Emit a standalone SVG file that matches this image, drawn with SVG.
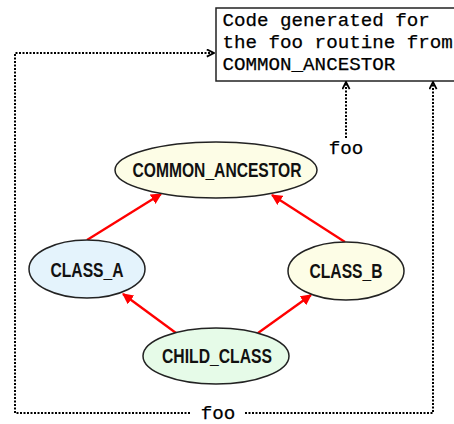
<svg xmlns="http://www.w3.org/2000/svg" width="454" height="424" viewBox="0 0 454 424">
  <defs>
    <marker id="solid" viewBox="0 0 10 10" refX="9" refY="5" markerWidth="11" markerHeight="11" markerUnits="userSpaceOnUse" orient="auto">
      <path d="M0,0 L10,5 L0,10 Z" fill="#ff0000"/>
    </marker>
    <marker id="open" viewBox="0 0 10 10" refX="9" refY="5" markerWidth="9" markerHeight="9" markerUnits="userSpaceOnUse" orient="auto">
      <path d="M1,1 L9,5 L1,9" fill="none" stroke="#000" stroke-width="2"/>
    </marker>
  </defs>
  <style>
    .node ellipse { stroke: #222; stroke-width: 1.5; }
    .label { font-family: "Liberation Sans", Arial, sans-serif; font-weight: bold; font-size: 19.5px; fill: #111; text-anchor: middle; }
    .mono { font-family: "Liberation Mono", "Courier New", monospace; font-size: 19.2px; fill: #000; stroke: #000; stroke-width: 0.25; }
    .inherit { stroke: #ff0000; stroke-width: 2.3; fill: none; marker-end: url(#solid); }
    .call { stroke: #000; stroke-width: 2; stroke-dasharray: 2 1.5; fill: none; }
  </style>

  <!-- generated code box -->
  <g id="code_box">
    <rect x="216" y="8" width="250" height="73" fill="#fff" stroke="#222" stroke-width="1.5"/>
    <text class="mono" x="222.5" y="26">Code generated for</text>
    <text class="mono" x="222.5" y="48">the foo routine from</text>
    <text class="mono" x="222.5" y="70">COMMON_ANCESTOR</text>
  </g>

  <g id="connectors">
    <!-- inheritance links -->
    <line class="inherit" x1="87" y1="240" x2="161" y2="194"/>
    <line class="inherit" x1="345" y1="242" x2="272" y2="195"/>
    <line class="inherit" x1="176" y1="333" x2="123" y2="294"/>
    <line class="inherit" x1="258" y1="333" x2="311" y2="295"/>

    <!-- foo call from COMMON_ANCESTOR -->
    <line class="call" x1="346" y1="138" x2="346" y2="83"/>
    <line x1="346" y1="90" x2="346" y2="82" stroke="none" marker-end="url(#open)"/>
    <text class="mono" x="346" y="154" text-anchor="middle">foo</text>

    <!-- foo call from CHILD_CLASS, looping around the graph -->
    <polyline class="call" points="190,413 15,413 15,53 213,53"/>
    <line x1="205" y1="53" x2="214" y2="53" stroke="none" marker-end="url(#open)"/>
    <polyline class="call" points="245,413 433,413 433,83"/>
    <line x1="433" y1="90" x2="433" y2="82" stroke="none" marker-end="url(#open)"/>
    <text class="mono" x="218" y="419" text-anchor="middle">foo</text>
  </g>

  <g id="COMMON_ANCESTOR" class="node">
    <ellipse cx="216" cy="170" rx="101" ry="28" fill="#fdfde6"/>
    <text class="label" x="217" y="177" textLength="169" lengthAdjust="spacingAndGlyphs">COMMON_ANCESTOR</text>
  </g>
  <g id="CLASS_A" class="node">
    <ellipse cx="87" cy="269" rx="58" ry="29" fill="#e4f3fc"/>
    <text class="label" x="87" y="277" textLength="73" lengthAdjust="spacingAndGlyphs">CLASS_A</text>
  </g>
  <g id="CLASS_B" class="node">
    <ellipse cx="346" cy="271" rx="58" ry="29" fill="#fdfde6"/>
    <text class="label" x="346" y="278" textLength="73" lengthAdjust="spacingAndGlyphs">CLASS_B</text>
  </g>
  <g id="CHILD_CLASS" class="node">
    <ellipse cx="216" cy="356" rx="73" ry="28" fill="#e6fbe8"/>
    <text class="label" x="217" y="363" textLength="110" lengthAdjust="spacingAndGlyphs">CHILD_CLASS</text>
  </g>
</svg>
